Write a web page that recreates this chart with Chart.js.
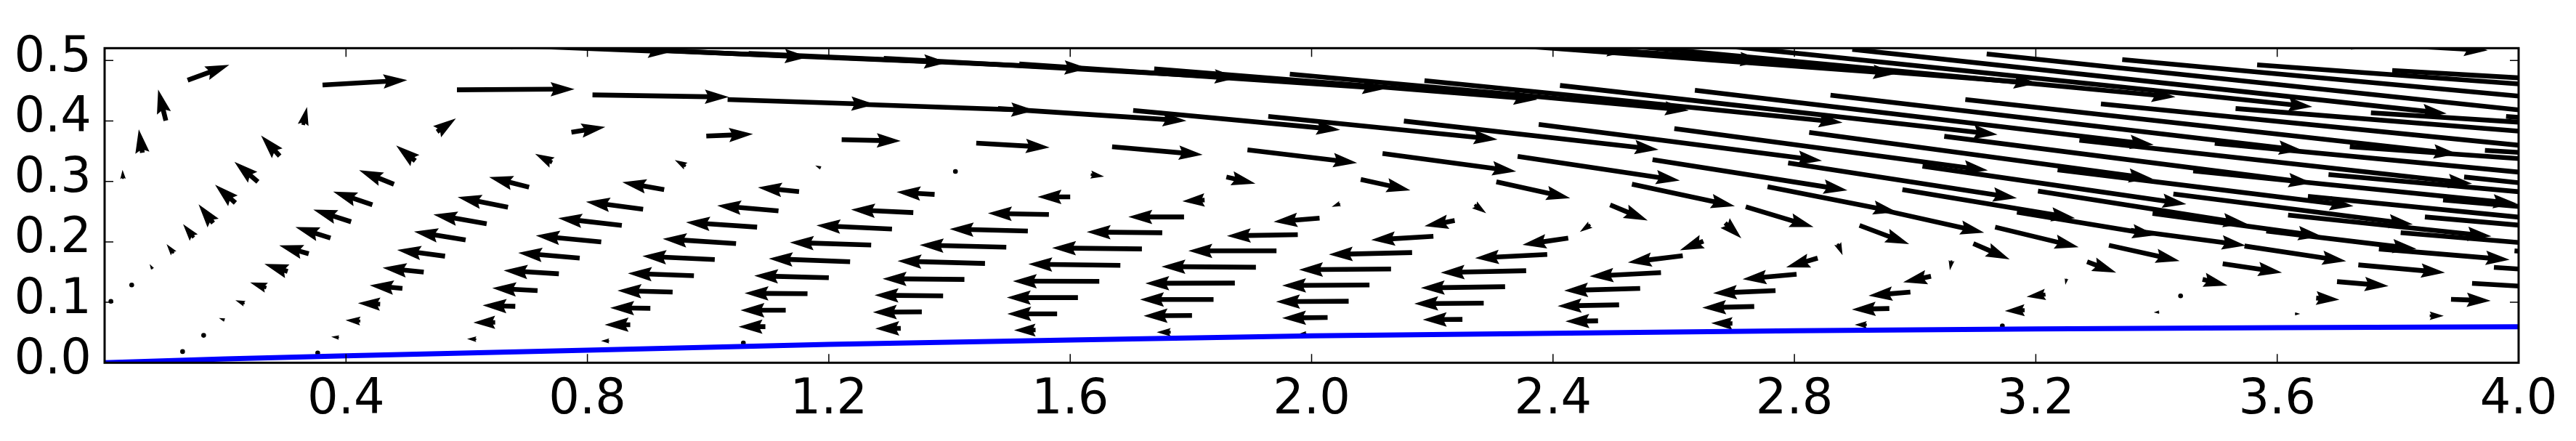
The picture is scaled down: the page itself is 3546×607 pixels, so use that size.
<!DOCTYPE html>
<html>
<head>
<meta charset="utf-8">
<script src="https://cdn.jsdelivr.net/npm/chart.js@4"></script>
<style>
  html, body { margin: 0; padding: 0; background: #fff; }
  canvas { display: block; }
</style>
</head>
<body>
<canvas id="myChart" width="3546" height="607"></canvas>
<script>
const xTicks = [0.4, 0.8, 1.2, 1.6, 2.0, 2.4, 2.8, 3.2, 3.6, 4.0];
const yTicks = [0.0, 0.1, 0.2, 0.3, 0.4, 0.5];

// blue wall line
const wallX = [0, 0.2, 0.4, 0.8, 1.2, 1.6, 2.0, 2.4, 2.8, 3.2, 3.6, 4.0];
const wallY = [0, 0.0065, 0.0116, 0.0208, 0.0304, 0.0376, 0.0444, 0.0488, 0.0529, 0.056, 0.058, 0.0596];

// arrow tails and tips, one line per row of the field
// tips past x=4 or y=0.52 are outside the axes and get clipped
const tailX = [
  .1292, .3531,
  .1641, .3884, .6159, .8361, 1.0584,
  .199, .4237, .6472, .871, 1.0949, 1.3192, 1.5426, 1.7665, 1.9912,
  .0104, .2319, .4566, .6805, .9043, 1.1286, 1.3541, 1.5783, 1.8018, 2.0265, 2.2499, 2.4746, 2.6973, 2.9199, 3.1446,
  .0449, .268, .4935, .7174, .9412, 1.1647, 1.3894, 1.6128, 1.8375, 2.0614, 2.2852, 2.5095, 2.7334, 2.9573, 3.1815, 3.4046, 3.6293, 3.8527,
  .0795, .3033, .5288, .7527, .9765, 1.2, 1.4247, 1.6482, 1.8728, 2.0959, 2.3206, 2.5444, 2.7687, 2.9922, 3.216, 3.4399, 3.6646, 3.888,
  .1144, .3382, .5641, .7872, 1.011, 1.2353, 1.4588, 1.6831, 1.9077, 2.1316, 2.3555, 2.5789, 2.8036, 3.0263, 3.2509, 3.4764, 3.6991, 3.9229,
  .1477, .3743, .5982, .8229, 1.0463, 1.2702, 1.4941, 1.7188, 1.9418, 2.1665, 2.3904, 2.615, 2.8385, 3.0604, 3.285, 3.5097, 3.7344, 3.9591,
  .1798, .4084, .6331, .857, 1.0812, 1.3047, 1.5298, 1.7525, 1.9771, 2.2018, 2.4252, 2.6491, 2.8718, 3.0965, 3.3212, 3.5458, 3.7685, 3.9932,
  .2167, .4437, .6684, .8923, 1.1166, 1.34, 1.5647, 1.7886, 2.0132, 2.2371, 2.4618, 2.6852, 2.9079, 3.1326, 3.3573, 3.5819, 3.8046,
  .0305, .254, .4794, .7033, .9272, 1.1507, 1.3753, 1.6, 1.8227, 2.0473, 2.27, 2.4947, 2.7194, 2.944, 3.1687, 3.3934, 3.618, 3.8447,
  .0626, .2901, .5148, .7415, .9629, 1.1868, 1.4098, 1.6341, 1.8588, 2.0814, 2.3061, 2.5308, 2.7555, 2.9789, 3.2036, 3.4279, 3.6509, 3.8748,
  .1015, .329, .5509, .7735, .997, 1.2213, 1.4443, 1.6694, 1.8937, 2.1175, 2.3414, 2.5649, 2.7896, 3.0122, 3.2361, 3.4608, 3.685, 3.9097,
  .1376, .3611, .5838, .8084, 1.0323, 1.257, 1.4804, 1.7043, 1.9282, 2.1529, 2.3763, 2.601, 2.8245, 3.0483, 3.2722, 3.4965, 3.7203, 3.9442,
  .1717, .3956, .6195, .8433, 1.0672, 1.2911, 1.5157, 1.7392, 1.9639, 2.187, 2.4116, 2.6351, 2.8598, 3.0832, 3.3079, 3.531, 3.7553, 3.9792,
  1.5527, 1.7765, 2.0004, 2.2243, 2.4482, 2.672, 2.8959, 3.1186, 3.3432, 3.5667, 3.7906,
  2.944, 2.7996
];
const tailY = [
  .0185, .0161,
  .0453, .0417, .0389, .0361, .0329,
  .0705, .0689, .0669, .0629, .0597, .0569, .0541, .0505, .0489,
  .1017, .0977, .0969, .0933, .0901, .0869, .0841, .0809, .0781, .0749, .0717, .0693, .0649, .0629, .0609,
  .1286, .1242, .123, .1194, .117, .1142, .1106, .1078, .1046, .1018, .0986, .0958, .093, .0898, .0869, .0837, .0809, .0777,
  .1551, .1511, .1499, .1471, .1439, .1406, .1378, .1346, .1318, .1286, .1258, .123, .1194, .117, .113, .1106, .107, .105,
  .1811, .1803, .1763, .1731, .1707, .1671, .1643, .1611, .1579, .1551, .1523, .1491, .1463, .1431, .1391, .1379, .1342, .1314,
  .2071, .2063, .2031, .1999, .1971, .1947, .1911, .1883, .1851, .1823, .1791, .1771, .1731, .1691, .1671, .1639, .1619, .1579,
  .2312, .2332, .23, .2272, .2244, .2212, .2179, .2151, .2119, .2091, .2063, .2011, .1971, .1971, .1943, .1931, .1883, .1851,
  .2644, .2612, .2572, .254, .2512, .2484, .2452, .2412, .2392, .2352, .2284, .2312, .2272, .2244, .2192, .2179, .2151,
  .3041, .2993, .2952, .2904, .2864, .2832, .2784, .2744, .2692, .2632, .2612, .2612, .258, .2532, .2492, .2472, .2444, .2412,
  .3474, .3421, .3341, .3313, .3253, .3221, .3165, .3113, .3073, .3033, .2993, .2953, .2912, .2864, .284, .2792, .2752, .2692,
  .4006, .3934, .3822, .3814, .375, .369, .3634, .3573, .3521, .3461, .3413, .3361, .3305, .3253, .3193, .3173, .3113, .3073,
  .4675, .4595, .4515, .4431, .4355, .4274, .4206, .4174, .4074, .3998, .3942, .3874, .381, .3746, .3682, .363, .3573, .3513,
  .5416, .536, .5308, .5196, .5116, .5036, .4944, .4863, .4775, .4667, .4587, .4507, .4427, .4355, .4283, .4206, .4134, .4074,
  .5836, .5677, .5496, .5376, .5316, .5256, .5184, .5108, .5016, .4928, .4835,
  .5729, .5797
];
const tipX = [
  .1302, .3541,
  .1651, .3755, .6006, .8225, 1.0594,
  .1894, .3992, .611, .8285, 1.0504, 1.277, 1.5069, 1.7432, 1.9799,
  .0114, .2167, .4197, .6263, .8377, 1.0536, 1.273, 1.4957, 1.7216, 1.9511, 2.1841, 2.4205, 2.662, 2.8999, 3.1386,
  .0459, .2411, .4393, .6423, .8498, 1.0604, 1.2758, 1.4949, 1.7156, 1.941, 2.1701, 2.4076, 2.6472, 2.8951, 3.1486, 3.3954, 3.6381, 3.876,
  .0746, .2648, .4606, .6612, .867, 1.0764, 1.2891, 1.5049, 1.7244, 1.9511, 2.1809, 2.4184, 2.6652, 2.9228, 3.1847, 3.4455, 3.7031, 3.9538,
  .1027, .2893, .4847, .6853, .8911, 1.1005, 1.3139, 1.5306, 1.7512, 1.9791, 2.2138, 2.4606, 2.7141, 2.9802, 3.2489, 3.5177, 3.7845, 4.0433,
  .13, .3162, .5127, .7145, .9248, 1.1354, 1.3505, 1.5699, 1.7958, 2.0285, 2.2708, 2.524, 2.7863, 3.0576, 3.3332, 3.608, 3.878, 4.1195,
  .1557, .3458, .5448, .7515, .9633, 1.1795, 1.4002, 1.6273, 1.8596, 2.0987, 2.3494, 2.6102, 2.8798, 3.1567, 3.4383, 3.7143, 3.9851, 4.2178,
  .183, .3787, .585, .7976, 1.015, 1.2369, 1.4636, 1.6963, 1.937, 2.187, 2.4445, 2.7121, 2.9902, 3.271, 3.5478, 3.8307, 4.1055,
  .0297, .2151, .4217, .6371, .8578, 1.0825, 1.3123, 1.5458, 1.7858, 2.0333, 2.2893, 2.5569, 2.8317, 3.1145, 3.3994, 3.6742, 3.955, 4.2339,
  .0566, .2592, .4831, .7134, .9448, 1.1775, 1.4108, 1.6562, 1.9069, 2.1637, 2.4285, 2.7013, 2.9701, 3.265, 3.5498, 3.8247, 4.0922, 4.3562,
  .0887, .3354, .5821, .8297, 1.0744, 1.3192, 1.5659, 1.8195, 2.0754, 2.339, 2.6102, 2.8879, 3.1687, 3.4495, 3.7264, 3.9972, 4.2467, 4.4915,
  .2066, .5015, .7787, 1.0343, 1.277, 1.5418, 1.7926, 2.0473, 2.3081, 2.5749, 2.8457, 3.1206, 3.3934, 3.6582, 3.9229, 4.1797, 4.4224, 4.6664,
  .7134, .94, 1.1667, 1.3974, 1.6301, 1.8788, 2.1236, 2.3743, 2.6251, 2.8798, 3.1366, 3.3954, 3.6421, 3.8989, 4.2279, 4.4485, 4.6892, 4.93,
  2.5288, 2.7494, 2.9701, 3.2028, 3.4315, 3.6582, 3.8808, 4.1617, 4.4064, 4.6492, 4.8898,
  3.949, 3.7625
];
const tipY = [
  .0185, .0161,
  .0453, .0429, .0393, .0361, .0329,
  .0741, .0705, .0665, .0629, .0597, .0565, .0537, .0505, .0481,
  .1017, .1033, .0985, .0949, .0909, .0869, .0837, .0809, .0777, .0741, .0713, .0685, .0657, .0629, .0597,
  .1286, .133, .1282, .1234, .1194, .115, .1118, .1078, .1046, .101, .0978, .0938, .091, .0882, .0857, .0833, .0809, .0777,
  .1631, .1635, .1571, .1527, .1479, .1439, .139, .135, .1314, .1278, .1238, .1194, .115, .111, .109, .1062, .1042, .1026,
  .1963, .1943, .1867, .1819, .1763, .1723, .1683, .1631, .1591, .1539, .1491, .1431, .1383, .1331, .1291, .1279, .127, .1242,
  .2292, .2244, .2171, .2103, .2051, .1991, .1947, .1899, .1851, .1791, .1731, .1659, .1579, .1531, .1491, .1491, .1491, .1471,
  .262, .2532, .2452, .2392, .2324, .2272, .2212, .2163, .2099, .2031, .1951, .1859, .1779, .1711, .1683, .1679, .1703, .1671,
  .2944, .2832, .274, .2664, .26, .2532, .2472, .2412, .2332, .226, .2164, .2059, .1963, .1911, .1939, .1883, .1903,
  .3193, .3325, .3185, .3072, .2988, .29, .2824, .2744, .2672, .258, .2472, .2352, .2244, .2151, .2111, .2091, .2091, .2071,
  .3862, .3758, .3593, .3457, .3353, .3263, .3165, .3081, .2964, .2852, .2724, .2592, .2492, .2392, .2299, .2291, .2319, .2287,
  .4519, .423, .4042, .3902, .3782, .367, .3562, .3441, .3305, .3165, .3013, .2852, .2724, .2624, .2592, .2632, .2608, .2464,
  .4927, .4675, .4527, .4395, .4274, .4174, .4002, .3854, .3694, .3525, .3341, .3181, .3045, .2972, .2964, .2984, .3085, .3081,
  .5296, .5144, .5056, .4968, .4867, .4715, .4535, .4355, .4174, .3974, .3774, .3605, .3513, .3453, .3373, .3473, .3545, .3361,
  .5156, .4996, .4783, .4623, .4395, .4234, .4122, .4014, .4038, .4142, .4198,
  .5168, .5276
];

const SHAFT = 6.6;   // shaft width of the arrows, px

// same outline as a matplotlib quiver arrow (headlength 5, headaxislength 4.5, headwidth 3)
function drawArrow(ctx, x0, y0, x1, y1) {
    const len = Math.hypot(x1 - x0, y1 - y0) / SHAFT;

    if (len < 1) {
        // too short for an arrow, just a dot
        ctx.beginPath();
        ctx.arc(x0, y0, SHAFT / 2, 0, Math.PI * 2);
        ctx.fill();
        return;
    }

    let pts;
    if (len < 5) {
        const s = len / 5;
        pts = [[0, .5], [.5, .5], [0, 1.5], [5, 0], [0, -1.5], [.5, -.5], [0, -.5]].map(p => [p[0] * s, p[1] * s]);
    } else {
        pts = [[0, .5], [len - 4.5, .5], [len - 5, 1.5], [len, 0], [len - 5, -1.5], [len - 4.5, -.5], [0, -.5]];
    }

    const ang = Math.atan2(y1 - y0, x1 - x0);
    const c = Math.cos(ang), s = Math.sin(ang);
    ctx.beginPath();
    pts.forEach(p => {
        const px = p[0] * SHAFT, py = p[1] * SHAFT;
        ctx.lineTo(x0 + px * c - py * s, y0 + px * s + py * c);
    });
    ctx.closePath();
    ctx.fill();
}

// arrows go under the blue line
const quiverPlugin = {
    id: "quiver",
    beforeDatasetsDraw(chart) {
        const ctx = chart.ctx, area = chart.chartArea;
        const xs = chart.scales.x, ys = chart.scales.y;
        ctx.save();
        ctx.beginPath();
        ctx.rect(area.left, area.top, area.right - area.left, area.bottom - area.top);
        ctx.clip();
        ctx.fillStyle = "#000";
        tailX.forEach((x, i) => {
            drawArrow(ctx, xs.getPixelForValue(x), ys.getPixelForValue(tailY[i]),
                xs.getPixelForValue(tipX[i]), ys.getPixelForValue(tipY[i]));
        });
        ctx.restore();
    }
};

// box and inward ticks on all four sides
const framePlugin = {
    id: "frame",
    afterDatasetsDraw(chart) {
        const ctx = chart.ctx, area = chart.chartArea;
        const xs = chart.scales.x, ys = chart.scales.y;
        const tickLen = 12;
        ctx.save();
        ctx.strokeStyle = "#000";
        ctx.lineWidth = 1.5;
        ctx.beginPath();
        xTicks.forEach(v => {
            const p = xs.getPixelForValue(v);
            ctx.moveTo(p, area.bottom);
            ctx.lineTo(p, area.bottom - tickLen);
            ctx.moveTo(p, area.top);
            ctx.lineTo(p, area.top + tickLen);
        });
        yTicks.forEach(v => {
            const p = ys.getPixelForValue(v);
            ctx.moveTo(area.left, p);
            ctx.lineTo(area.left + tickLen, p);
            ctx.moveTo(area.right, p);
            ctx.lineTo(area.right - tickLen, p);
        });
        ctx.stroke();
        ctx.lineWidth = 3;
        ctx.strokeRect(area.left, area.top, area.right - area.left, area.bottom - area.top);
        ctx.restore();
    }
};

const chartData = {
    datasets: [{
        label: "wall",
        data: wallX.map((x, i) => ({ x: x, y: wallY[i] })),
        showLine: true,
        borderColor: "#0000ff",
        borderWidth: 7,
        pointRadius: 0,
        fill: false
    }]
};

const config = {
    type: "scatter",
    data: chartData,
    plugins: [quiverPlugin, framePlugin],
    options: {
        responsive: false,
        animation: false,
        events: [],
        layout: { padding: { left: 0, right: 79, top: 66.3, bottom: 0 } },
        plugins: { legend: { display: false }, tooltip: { enabled: false } },
        scales: {
            x: {
                type: "linear",
                min: 0,
                max: 4,
                afterBuildTicks: s => { s.ticks = xTicks.map(v => ({ value: v })); },
                afterFit: s => { s.height = 107.7; },
                grid: { display: false },
                border: { display: false },
                ticks: {
                    autoSkip: false,
                    maxRotation: 0,
                    padding: 4,
                    color: "#000",
                    font: { family: "DejaVu Sans", size: 67 },
                    callback: v => v.toFixed(1)
                }
            },
            y: {
                type: "linear",
                min: 0,
                max: 0.5204,
                afterBuildTicks: s => { s.ticks = yTicks.map(v => ({ value: v })); },
                afterFit: s => { s.width = 144; },
                grid: { display: false },
                border: { display: false },
                ticks: {
                    autoSkip: false,
                    padding: 10,
                    labelOffset: -3,
                    color: "#000",
                    font: { family: "DejaVu Sans", size: 67 },
                    callback: v => v.toFixed(1)
                }
            }
        }
    }
};

const myChart = new Chart(document.getElementById("myChart"), config);
</script>
</body>
</html>
